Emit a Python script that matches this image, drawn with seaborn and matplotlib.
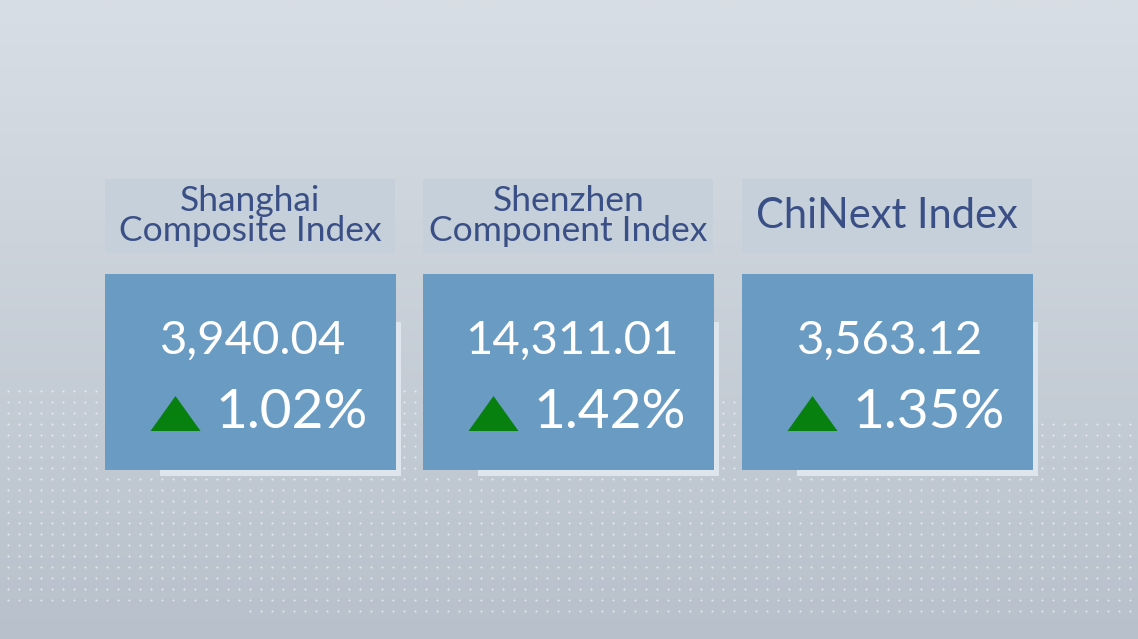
import numpy as np
import pandas as pd
import seaborn as sns
import matplotlib.pyplot as plt
from matplotlib.patches import Rectangle

# index data
names = ["Shanghai\nComposite Index", "Shenzhen\nComponent Index", "ChiNext Index"]
closes = [3940.04, 14311.01, 3563.12]
changes = [1.02, 1.42, 1.35]

sns.set_theme(style="white")
plt.rcParams["font.family"] = ["Lato", "DejaVu Sans"]

W, H = 1138, 639
fig = plt.figure(figsize=(11.38, 6.39), dpi=100)
ax = fig.add_axes([0, 0, 1, 1])
ax.set_xlim(0, W)
ax.set_ylim(H, 0)
ax.axis("off")

# background gradient
top = np.array([216, 222, 229]) / 255
bot = np.array([184, 193, 203]) / 255
t = np.linspace(0, 1, 256)[:, None]
grad = top * (1 - t[..., None]) + bot * t[..., None]
grad = np.repeat(grad, 2, axis=1)
ax.imshow(grad, extent=[0, W, H, 0], aspect="auto", zorder=0)

# dotted wave band
gx, gy = np.meshgrid(np.arange(8, W, 11), np.arange(380, 630, 11))
upper = 384 + 36 * (gx / W) ** 2
lower = 608 + 14 * (gx / W)
mask = (gy > upper) & (gy < lower)
ax.scatter(gx[mask], gy[mask], s=2.2, color="white", alpha=0.6, lw=0, zorder=1)

df = pd.DataFrame({"name": names, "close": closes, "change": changes})
left0, step, cw = 105, 318.5, 290
df["x0"] = left0 + df.index * step
df["cx"] = df["x0"] + cw / 2
df["tsize"] = [25.5, 25.5, 30]

title_bg = "#c6d0db"
card_blue = "#6a9bc3"
navy = "#3a4f85"

for _, r in df.iterrows():
    x0 = r["x0"]
    # title box
    ax.add_patch(Rectangle((x0, 179), cw, 74, color=title_bg, lw=0, zorder=2))
    ax.text(r["cx"], 216, r["name"], ha="center", va="center", color=navy,
            fontsize=r["tsize"], linespacing=0.95, zorder=3)
    # shadow panel
    ax.add_patch(Rectangle((x0 + 55, 322), cw - 49, 154, color="#dfe5ec", lw=0, zorder=2))
    # card
    ax.add_patch(Rectangle((x0, 274), cw + 1, 196, color=card_blue, lw=0, zorder=3))
    ax.text(r["cx"] + 3, 341, f"{r['close']:,.2f}", ha="center", va="center",
            color="white", fontsize=34, zorder=4)
    ax.text(x0 + 110, 413, f"{r['change']:.2f}%", ha="left", va="center",
            color="white", fontsize=39.5, zorder=4)

# up arrows
tri = [(-1, -0.7), (1, -0.7), (0, 0.7), (-1, -0.7)]
df["ty"] = 413
sns.scatterplot(data=df, x=df["x0"] + 70, y="ty", marker=tri, s=1296,
                color="#078010", linewidth=0, ax=ax, zorder=5, legend=False)
ax.set_xlim(0, W)
ax.set_ylim(H, 0)

fig.savefig("out.png", dpi=100)
